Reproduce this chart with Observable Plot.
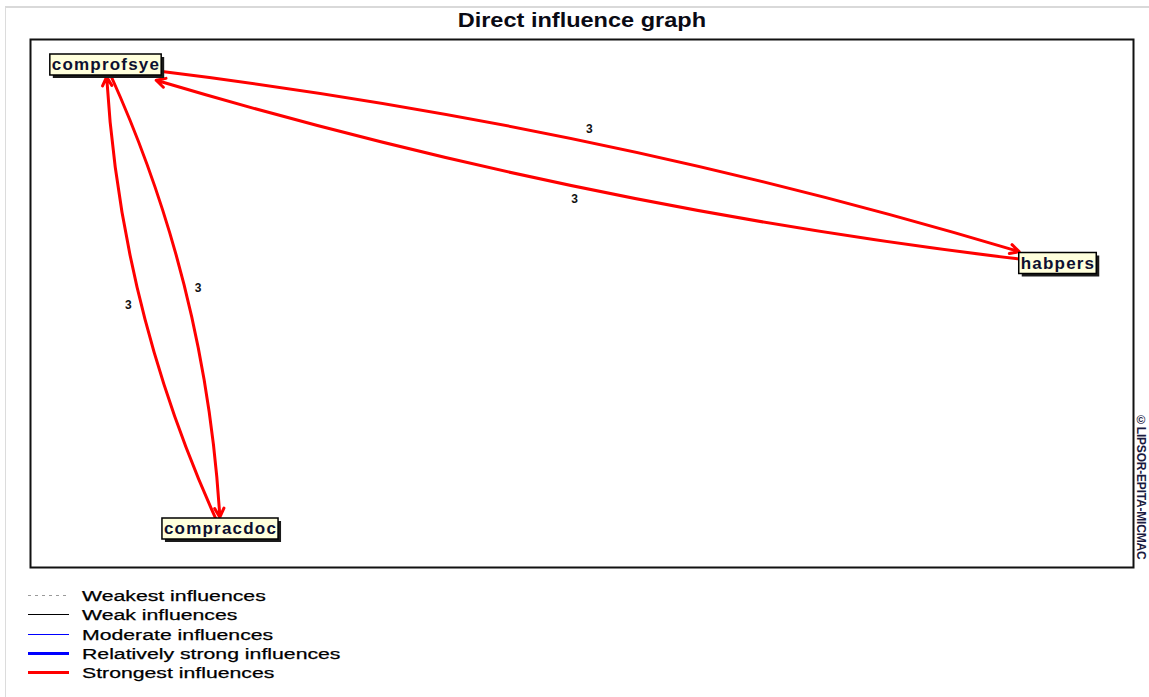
<!DOCTYPE html>
<html>
<head>
<meta charset="utf-8">
<script src="https://cdn.jsdelivr.net/npm/d3@7"></script>
<script src="https://cdn.jsdelivr.net/npm/@observablehq/plot@0.6"></script>
<style>
  html, body { margin: 0; padding: 0; background: #fff; }
  body { width: 1149px; height: 697px; position: relative; overflow: hidden; font-family: "Liberation Sans", Arial, sans-serif; color: #111; }
  #border { position: absolute; left: 5px; top: 6px; right: 0; bottom: 0; border-top: 2px solid #d9d9d9; border-left: 1px solid #dcdcdc; }
  #title { position: absolute; left: 30px; width: 1103px; top: 9px; text-align: center; font-weight: bold; font-size: 21px; line-height: 21px; color: #0a0a14; }
  #title span { display: inline-block; transform: scaleX(1.12); }
  #chart { position: absolute; left: 0; top: 35px; }
  #legend { position: absolute; left: 28px; top: 586px; }
  .row { display: flex; align-items: center; height: 19.3px; }
  .row svg { display: block; }
  .row span { display: inline-block; margin-left: 12px; font-size: 15.5px; line-height: 19px; transform: scaleX(1.37); transform-origin: left center; white-space: nowrap; color: #000; -webkit-text-stroke: 0.25px #000; }
  #wm { position: absolute; left: 1134px; top: 413px; writing-mode: vertical-rl; font-weight: bold; font-size: 12px; line-height: 14px; color: #1a1a40; white-space: nowrap; letter-spacing: -0.2px; }
</style>
</head>
<body>
<div id="border"></div>
<div id="title"></div>
<div id="chart"></div>
<div id="legend"></div>
<div id="wm"></div>
<script>
// ---- data ----
const chartTitle = "Direct influence graph";
const watermark = "©LIPSOR-EPITA-MICMAC";
const nodeNames = ["comprofsye", "habpers", "compracdoc"];
const nodeX = [75.5, 1027.5, 190];
const nodeY = [25.5, 224, 489.5];
const edgeSource = ["comprofsye", "habpers", "comprofsye", "compracdoc"];
const edgeTarget = ["habpers", "comprofsye", "compracdoc", "comprofsye"];
const edgeValue = [3, 3, 3, 3];
const legendLabels = ["Weakest influences", "Weak influences", "Moderate influences", "Relatively strong influences", "Strongest influences"];

// ---- styles ----
const legendStyles = [
  {stroke: "#9a9a9a", width: 1, dash: "3,4"},
  {stroke: "#000000", width: 1, dash: null},
  {stroke: "#0000ff", width: 1.2, dash: null},
  {stroke: "#0000ff", width: 3, dash: null},
  {stroke: "#ff0000", width: 3, dash: null}
];
const LABEL_FONT_SIZE = 17, LETTER_SP = 1.2, BOX_H = 21, SAGITTA = 23, LABEL_OFFSET = 13;

document.querySelector("#title").innerHTML = "<span></span>";
document.querySelector("#title span").textContent = chartTitle;
document.querySelector("#wm").textContent = watermark;

// measure labels for box sizes
const ctx = document.createElement("canvas").getContext("2d");
ctx.font = `bold ${LABEL_FONT_SIZE}px "Liberation Sans", Arial, sans-serif`;
const textW = s => ctx.measureText(s).width + LETTER_SP * s.length;

const nodes = nodeNames.map((name, i) => ({name, x: nodeX[i], y: nodeY[i], w: textW(name) + 3, h: BOX_H}));
const byName = new Map(nodes.map(d => [d.name, d]));

const edges = edgeSource.map((s, i) => {
  const a = byName.get(s), b = byName.get(edgeTarget[i]);
  const dx = b.x - a.x, dy = b.y - a.y, L = Math.hypot(dx, dy);
  const ux = dx / L, uy = dy / L;
  const exit = n => Math.min((n.w / 2) / Math.max(Math.abs(ux), 1e-9), (n.h / 2) / Math.max(Math.abs(uy), 1e-9));
  const bend = 2 * Math.atan(2 * SAGITTA / L) * 180 / Math.PI;
  // clockwise arc bows to (uy, -ux) in screen coordinates (y downward)
  const mx = (a.x + b.x) / 2 + uy * SAGITTA, my = (a.y + b.y) / 2 - ux * SAGITTA;
  return {
    x1: a.x, y1: a.y, x2: b.x, y2: b.y, value: edgeValue[i], bend,
    insetStart: exit(a) + 1, insetEnd: exit(b) + 1,
    lx: mx + uy * LABEL_OFFSET, ly: my - ux * LABEL_OFFSET
  };
});

const W = 1149, H = 540, ML = 30, MR = 16, MT = 4, MB = 8;
const boxX1 = d => d.x - d.w / 2, boxX2 = d => d.x + d.w / 2;
const boxY1 = d => d.y - d.h / 2, boxY2 = d => d.y + d.h / 2;

const plot = Plot.plot({
  width: W, height: H,
  marginLeft: ML, marginRight: MR, marginTop: MT, marginBottom: MB,
  x: {domain: [0, W - ML - MR], range: [ML, W - MR], axis: null},
  y: {domain: [0, H - MT - MB], range: [MT, H - MB], axis: null},
  style: {background: "transparent", fontFamily: '"Liberation Sans", Arial, sans-serif', overflow: "visible"},
  marks: [
    Plot.frame({stroke: "#111", strokeWidth: 2}),
    ...edges.map(e => Plot.arrow([e], {
      x1: "x1", y1: "y1", x2: "x2", y2: "y2",
      bend: e.bend, insetStart: e.insetStart, insetEnd: e.insetEnd,
      stroke: "#ff0000", strokeWidth: 3, headLength: 5, headAngle: 55
    })),
    Plot.text(edges, {x: "lx", y: "ly", text: "value", fontWeight: "bold", fontSize: 12, fill: "#111"}),
    Plot.rect(nodes, {x1: boxX1, x2: boxX2, y1: boxY1, y2: boxY2, fill: "#1a1a1a", dx: 3, dy: 3}),
    Plot.rect(nodes, {x1: boxX1, x2: boxX2, y1: boxY1, y2: boxY2, fill: "#ffffdc", stroke: "#000", strokeWidth: 1.5}),
    Plot.text(nodes, {x: "x", y: "y", text: "name", fontWeight: "bold", fontSize: LABEL_FONT_SIZE, fill: "#0d1030"})
  ]
});
// widen node-label letter spacing (last text group holds node names)
const textGroups = plot.querySelectorAll('g[aria-label="text"]');
textGroups[textGroups.length - 1].querySelectorAll("text").forEach(t => t.style.letterSpacing = LETTER_SP + "px");
document.querySelector("#chart").appendChild(plot);

// legend
const legend = d3.select("#legend");
legendLabels.forEach((lab, i) => {
  const st = legendStyles[i];
  const row = legend.append("div").attr("class", "row");
  const svg = row.append("svg").attr("width", 42).attr("height", 19);
  svg.append("line").attr("x1", 0).attr("x2", 41).attr("y1", 9.5).attr("y2", 9.5)
    .attr("stroke", st.stroke).attr("stroke-width", st.width)
    .attr("stroke-dasharray", st.dash);
  row.append("span").text(lab);
});
</script>
</body>
</html>
